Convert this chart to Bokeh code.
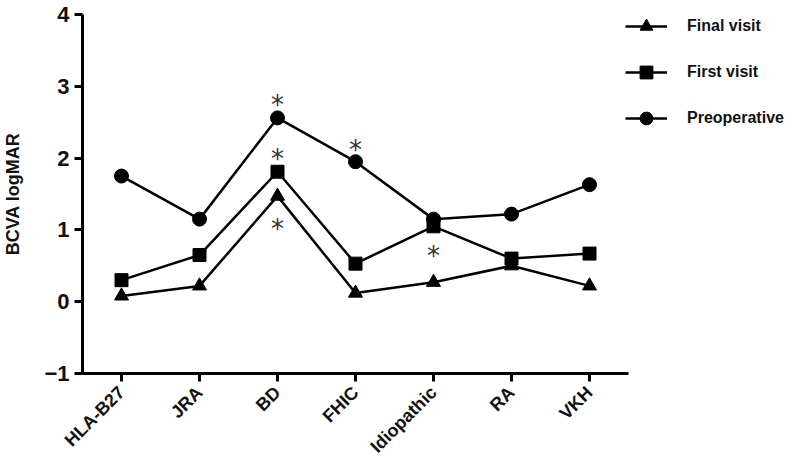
import math
from bokeh.plotting import figure
from bokeh.models import Range1d, FixedTicker, Legend, LegendItem, ColumnDataSource
from bokeh.core.properties import value
from bokeh.embed import file_html
from bokeh.resources import INLINE

categories = ["HLA-B27", "JRA", "BD", "FHIC", "Idiopathic", "RA", "VKH"]
preoperative = [1.75, 1.15, 2.56, 1.95, 1.15, 1.22, 1.63]
first_visit = [0.30, 0.65, 1.81, 0.53, 1.05, 0.60, 0.67]
final_visit = [0.08, 0.22, 1.47, 0.12, 0.27, 0.50, 0.22]
star_categories = ["BD", "BD", "BD", "FHIC", "Idiopathic"]
star_values = [2.85, 2.10, 1.12, 2.23, 0.75]
y_ticks = [-1, 0, 1, 2, 3, 4]

FONT = "Liberation Sans"
xs = list(range(len(categories)))

p = figure(width=784, height=466, output_backend="svg", toolbar_location=None,
           x_range=Range1d(-0.5, 8.5), y_range=Range1d(-1, 4),
           min_border_left=72, min_border_top=14, min_border_bottom=90,
           min_border_right=0)
p.outline_line_color = None
p.grid.visible = False
p.background_fill_color = "white"
p.border_fill_color = "white"

# lines and markers
series = [
    ("Final visit", final_visit, "triangle", 14),
    ("First visit", first_visit, "square", 13),
    ("Preoperative", preoperative, "circle", 14),
]
items = []
for label, vals, marker, size in series:
    src = ColumnDataSource(dict(x=xs, y=vals))
    lr = p.line("x", "y", source=src, line_color="black", line_width=2.5)
    sr = p.scatter("x", "y", source=src, marker=marker, size=size,
                   fill_color="black", line_color="black")
    items.append(LegendItem(label=label, renderers=[lr, sr]))

# asterisks
star_x = [categories.index(c) for c in star_categories]
p.text(x=star_x, y=star_values, text=["*"] * len(star_x),
       text_font=value("DejaVu Sans"), text_font_size="26px",
       text_color="#333333", text_align="center", text_baseline="middle",
       y_offset=8)

legend = Legend(items=items, location=(543, 239), padding=0, margin=0,
                spacing=14, glyph_width=42, glyph_height=32, label_height=32,
                label_standoff=20, border_line_alpha=0,
                background_fill_alpha=0,
                label_text_font=FONT, label_text_font_size="16px",
                label_text_font_style="bold", label_text_color="#111111")
p.add_layout(legend)

# axes
for ax in (p.xaxis[0], p.yaxis[0]):
    ax.axis_line_width = 3
    ax.axis_line_color = "black"
    ax.major_tick_line_width = 3
    ax.major_tick_line_color = "black"
    ax.major_tick_out = 8
    ax.major_tick_in = 0
    ax.minor_tick_line_color = None
    ax.major_label_text_font = FONT
    ax.major_label_text_font_style = "bold"
    ax.major_label_text_color = "#111111"

p.xaxis.ticker = FixedTicker(ticks=xs)
p.xaxis.major_label_overrides = {i: c for i, c in enumerate(categories)}
p.xaxis.major_label_orientation = math.pi / 4
p.xaxis.major_label_text_font_size = "18px"
p.xaxis.major_label_standoff = 8
p.xaxis.bounds = (-0.5, len(categories) - 0.5)

p.yaxis.ticker = FixedTicker(ticks=y_ticks)
p.yaxis.major_label_text_font_size = "22px"
p.yaxis.axis_label = "BCVA logMAR"
p.yaxis.axis_label_text_font = FONT
p.yaxis.axis_label_text_font_style = "bold"
p.yaxis.axis_label_text_font_size = "18px"
p.yaxis.axis_label_text_color = "#111111"
p.yaxis.axis_label_standoff = 18

open("out.html", "w").write(file_html(p, INLINE))
